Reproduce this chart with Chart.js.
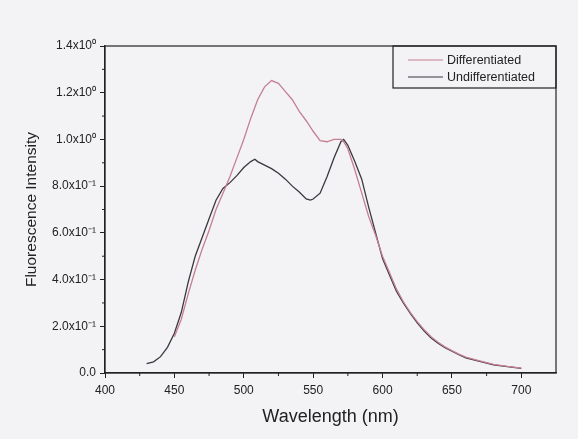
<!DOCTYPE html>
<html>
<head>
<meta charset="utf-8">
<script src="https://cdn.jsdelivr.net/npm/chart.js@4.4.0/dist/chart.umd.min.js"></script>
<style>
  html, body { margin: 0; padding: 0; background: #f3f3f5; }
</style>
</head>
<body>
<canvas id="spectrum" width="578" height="439"></canvas>
<script>
// values
const diffWavelength = [450, 455, 460, 465, 470, 475, 480, 485, 490, 495, 500, 505, 510, 515, 520, 525, 530, 535, 540, 545, 550, 555, 560, 565, 570, 572, 575, 580, 585, 590, 595, 600, 605, 610, 615, 620, 625, 630, 635, 640, 645, 650, 655, 660, 670, 680, 690, 700];
const diffIntensity = [0.155, 0.23, 0.34, 0.44, 0.53, 0.61, 0.70, 0.77, 0.84, 0.92, 1.0, 1.09, 1.17, 1.225, 1.252, 1.24, 1.205, 1.17, 1.12, 1.08, 1.035, 0.995, 0.99, 1.0, 1.0, 0.99, 0.96, 0.87, 0.77, 0.67, 0.59, 0.50, 0.43, 0.36, 0.305, 0.26, 0.22, 0.185, 0.155, 0.132, 0.112, 0.096, 0.081, 0.068, 0.052, 0.037, 0.028, 0.021];

const undiffWavelength = [430, 435, 440, 445, 450, 455, 460, 465, 470, 475, 480, 485, 490, 495, 500, 505, 508, 510, 515, 520, 525, 530, 535, 540, 545, 548, 550, 555, 560, 565, 570, 572, 575, 580, 585, 590, 595, 600, 605, 610, 615, 620, 625, 630, 635, 640, 645, 650, 655, 660, 670, 680, 690, 700];
const undiffIntensity = [0.04, 0.048, 0.07, 0.11, 0.17, 0.26, 0.39, 0.50, 0.58, 0.66, 0.74, 0.79, 0.815, 0.845, 0.88, 0.905, 0.915, 0.905, 0.89, 0.875, 0.855, 0.83, 0.80, 0.775, 0.745, 0.74, 0.745, 0.77, 0.84, 0.92, 0.99, 1.0, 0.975, 0.905, 0.83, 0.71, 0.60, 0.49, 0.42, 0.35, 0.30, 0.255, 0.215, 0.18, 0.15, 0.128, 0.108, 0.093, 0.078, 0.065, 0.05, 0.035, 0.027, 0.02];

const xMinorTicks = [425, 475, 525, 575, 625, 675];
const yMinorTicks = [0.1, 0.3, 0.5, 0.7, 0.9, 1.1, 1.3];

const axisColor = '#222';
const fontFamily = "'Liberation Sans', Arial, sans-serif";

function toPoints(xs, ys) {
  return xs.map((x, i) => ({ x, y: ys[i] }));
}

function sciLabel(v) {
  if (Math.abs(v) < 1e-9) return '0.0';
  if (v >= 0.999) return v.toFixed(1) + 'x10\u2070';
  return (v * 10).toFixed(1) + 'x10\u207B\u00B9';
}

// box frame, minor ticks and the boxed legend
const framePlugin = {
  id: 'frame',
  afterDraw(chart) {
    const { ctx, chartArea: a, scales: { x, y } } = chart;
    ctx.save();
    ctx.strokeStyle = axisColor;
    ctx.lineWidth = 1.2;
    ctx.strokeRect(a.left, a.top, a.right - a.left, a.bottom - a.top);

    ctx.lineWidth = 1;
    ctx.beginPath();
    xMinorTicks.forEach(v => {
      const px = x.getPixelForValue(v);
      ctx.moveTo(px, a.bottom);
      ctx.lineTo(px, a.bottom + 3);
    });
    yMinorTicks.forEach(v => {
      const py = y.getPixelForValue(v);
      ctx.moveTo(a.left, py);
      ctx.lineTo(a.left - 3, py);
    });
    ctx.stroke();

    const boxLeft = a.right - 163;
    const boxBottom = a.top + 42;
    ctx.lineWidth = 1.2;
    ctx.strokeRect(boxLeft, a.top, a.right - boxLeft, boxBottom - a.top);
    ctx.font = '12.5px ' + fontFamily;
    ctx.textBaseline = 'middle';
    chart.data.datasets.forEach((ds, i) => {
      const ly = a.top + 14 + i * 17;
      ctx.strokeStyle = ds.borderColor;
      ctx.lineWidth = 1.2;
      ctx.beginPath();
      ctx.moveTo(boxLeft + 15, ly);
      ctx.lineTo(boxLeft + 50, ly);
      ctx.stroke();
      ctx.fillStyle = axisColor;
      ctx.fillText(ds.label, boxLeft + 54, ly + 1);
    });
    ctx.restore();
  }
};

const ctx = document.getElementById('spectrum').getContext('2d');
new Chart(ctx, {
  type: 'line',
  data: {
    datasets: [
      {
        label: 'Differentiated',
        data: toPoints(diffWavelength, diffIntensity),
        borderColor: '#c47f90',
        borderWidth: 1.3,
        pointRadius: 0,
        tension: 0
      },
      {
        label: 'Undifferentiated',
        data: toPoints(undiffWavelength, undiffIntensity),
        borderColor: '#38383e',
        borderWidth: 1.3,
        pointRadius: 0,
        tension: 0
      }
    ]
  },
  options: {
    responsive: false,
    animation: false,
    layout: { padding: { top: 46, right: 22, left: 0, bottom: 0 } },
    plugins: {
      legend: { display: false },
      tooltip: { enabled: false }
    },
    scales: {
      x: {
        type: 'linear',
        min: 400,
        max: 725,
        afterFit: s => { s.height = 66; },
        border: { display: true, color: axisColor, width: 1.2 },
        grid: { drawOnChartArea: false, tickLength: 5, color: axisColor },
        ticks: {
          stepSize: 50,
          includeBounds: false,
          padding: 5,
          color: axisColor,
          font: { family: fontFamily, size: 12 },
          maxRotation: 0
        },
        title: {
          display: true,
          text: 'Wavelength (nm)',
          color: axisColor,
          font: { family: fontFamily, size: 18 },
          padding: { top: 0, bottom: 11 }
        }
      },
      y: {
        min: 0,
        max: 1.4,
        afterFit: s => { s.width = 105; },
        border: { display: true, color: axisColor, width: 1.2 },
        grid: { drawOnChartArea: false, tickLength: 5, color: axisColor },
        ticks: {
          stepSize: 0.2,
          padding: 4,
          color: axisColor,
          font: { family: fontFamily, size: 12 },
          callback: v => sciLabel(v)
        },
        title: {
          display: true,
          text: 'Fluorescence Intensity',
          color: axisColor,
          font: { family: fontFamily, size: 15.5 },
          padding: { top: 22, bottom: 0 }
        }
      }
    }
  },
  plugins: [framePlugin]
});
</script>
</body>
</html>
